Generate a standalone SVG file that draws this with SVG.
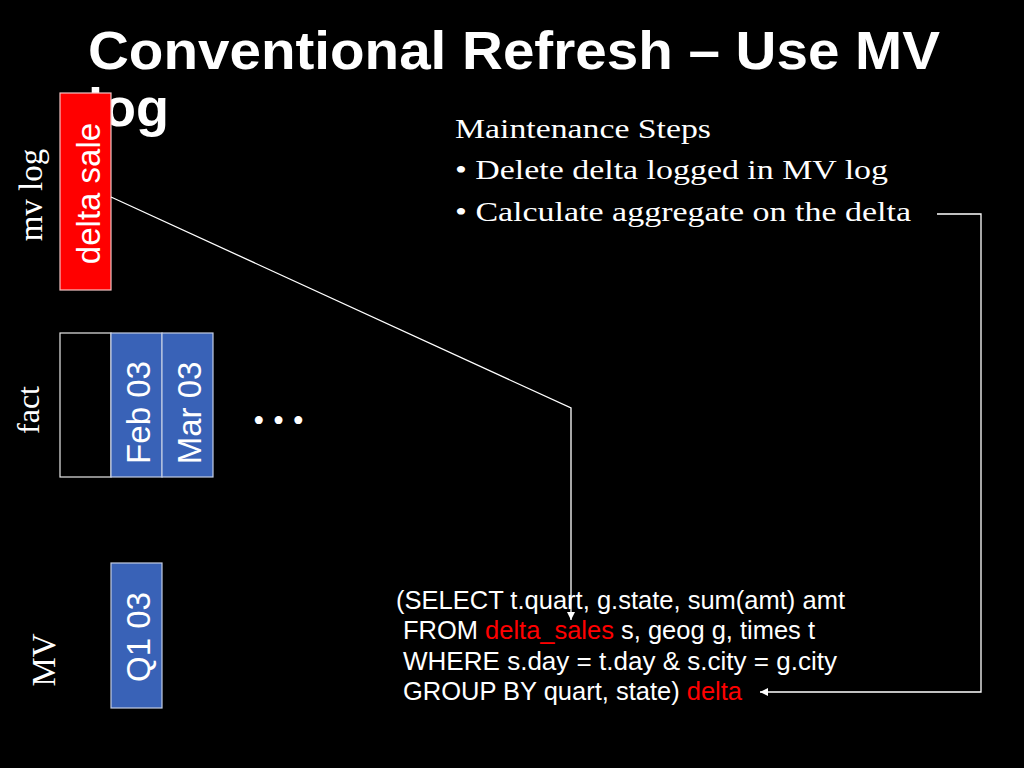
<svg xmlns="http://www.w3.org/2000/svg" width="1024" height="768" viewBox="0 0 1024 768">
<style>
.title{font-family:"Liberation Sans",Arial,sans-serif;font-weight:bold;font-size:54px;fill:#ffffff}
.serif{font-family:"Liberation Serif","Times New Roman",serif;fill:#ffffff}
.sans{font-family:"Liberation Sans",Arial,sans-serif;fill:#ffffff}
.red{fill:#ff0000}
.box-red{fill:#ff0000;stroke:#f4c4c4;stroke-width:1.2}
.box-blue{fill:#3962b7;stroke:#c4cde4;stroke-width:1.2}
.box-black{fill:#000000;stroke:#e8e8e8;stroke-width:1.2}
.conn{fill:none;stroke:#ffffff;stroke-width:1.3}
</style>
<defs>
<marker id="arrow" markerUnits="userSpaceOnUse" markerWidth="9" markerHeight="8" refX="8" refY="4" orient="auto">
<path d="M0,0 L8,4 L0,8 z" fill="#ffffff"/>
</marker>
</defs>
<rect x="0" y="0" width="1024" height="768" fill="#000000"/>
<g id="title">
<text class="title" x="88" y="69" textLength="852" lengthAdjust="spacingAndGlyphs">Conventional Refresh – Use MV</text>
<text class="title" x="88" y="126">log</text>
</g>
<g id="steps">
<text class="serif" font-size="28" x="455" y="138" textLength="256" lengthAdjust="spacingAndGlyphs">Maintenance Steps</text>
<text class="serif" font-size="28" x="455" y="179" textLength="433" lengthAdjust="spacingAndGlyphs">• Delete delta logged in MV log</text>
<text class="serif" font-size="28" x="455" y="221" textLength="456" lengthAdjust="spacingAndGlyphs">• Calculate aggregate on the delta</text>
</g>
<g id="label-mvlog">
<text class="serif" font-size="33" text-anchor="middle" transform="translate(42,195) rotate(-90)">mv log</text>
</g>
<g id="label-fact">
<text class="serif" font-size="32" text-anchor="middle" transform="translate(39,410) rotate(-90)">fact</text>
</g>
<g id="label-mv">
<text class="serif" font-size="33" text-anchor="middle" transform="translate(55,660) rotate(-90)">MV</text>
</g>
<g id="node-delta-sale">
<rect class="box-red" x="60" y="93" width="51" height="197"/>
<text class="sans" font-size="33" text-anchor="middle" transform="translate(100,193.5) rotate(-90)">delta sale</text>
</g>
<g id="node-fact-empty">
<rect class="box-black" x="60" y="333" width="51" height="144"/>
</g>
<g id="node-feb03">
<rect class="box-blue" x="111" y="333" width="51" height="144"/>
<text class="sans" font-size="33" text-anchor="middle" transform="translate(150,412.5) rotate(-90)">Feb 03</text>
</g>
<g id="node-mar03">
<rect class="box-blue" x="162" y="333" width="51" height="144"/>
<text class="sans" font-size="33" text-anchor="middle" transform="translate(201,413) rotate(-90)">Mar 03</text>
</g>
<g id="dots">
<text class="serif" font-size="33" x="253" y="432">• • •</text>
</g>
<g id="node-q103">
<rect class="box-blue" x="111" y="563" width="51" height="145"/>
<text class="sans" font-size="33" text-anchor="middle" transform="translate(150,637) rotate(-90)">Q1 03</text>
</g>
<g id="sql">
<text class="sans" font-size="25" x="396" y="608.5" textLength="449" lengthAdjust="spacingAndGlyphs">(SELECT t.quart, g.state, sum(amt) amt</text>
<text class="sans" font-size="25" x="403" y="639" textLength="412" lengthAdjust="spacingAndGlyphs">FROM <tspan class="red">delta_sales</tspan> s, geog g, times t</text>
<text class="sans" font-size="25" x="403" y="669.5" textLength="434" lengthAdjust="spacingAndGlyphs">WHERE s.day = t.day &amp; s.city = g.city</text>
<text class="sans" font-size="25" x="403" y="700" textLength="339" lengthAdjust="spacingAndGlyphs">GROUP BY quart, state) <tspan class="red">delta</tspan></text>
</g>
<g id="connectors">
<polyline class="conn" points="111,197 571,408 571,620" marker-end="url(#arrow)"/>
<polyline class="conn" points="937,214 981,214 981,692 760,692" marker-end="url(#arrow)"/>
</g>
</svg>
